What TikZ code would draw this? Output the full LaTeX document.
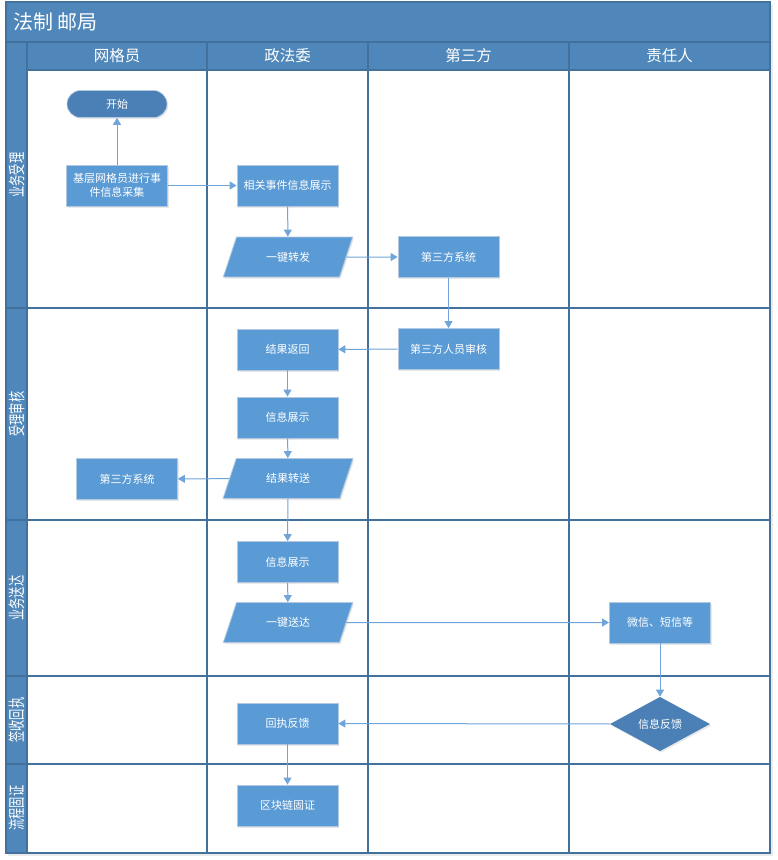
\documentclass[tikz,border=0pt]{standalone}
\usepackage{fontspec}
\usepackage{graphicx}
\setmainfont{Noto Sans CJK SC}
\usetikzlibrary{arrows.meta,shapes.geometric,shadows}
\definecolor{barblue}{HTML}{4F87BA}
\definecolor{gridblue}{HTML}{41719C}
\definecolor{boxblue}{HTML}{5B9BD5}
\definecolor{boxline}{HTML}{B3C9E2}
\definecolor{darkshape}{HTML}{4A80B6}
\definecolor{arrowblue}{HTML}{6FA5DA}
\tikzset{
  shade/.style={drop shadow={opacity=0.18,shadow xshift=1.2pt,shadow yshift=-1.5pt}},
  proc/.style={draw=boxline,line width=0.8pt,fill=boxblue,text=white,minimum width=101pt,minimum height=41pt,inner sep=1pt,align=center,font=\fontsize{11}{13.5}\selectfont,shade},
  para/.style={shape=trapezium,trapezium left angle=61,trapezium right angle=119,trapezium stretches=true,draw=boxline,line width=0.8pt,fill=boxblue,text=white,minimum width=130pt,minimum height=40pt,inner sep=0pt,font=\fontsize{11}{13.5}\selectfont,shade},
  term/.style={draw=boxline,line width=0.6pt,fill=darkshape,text=white,minimum width=100pt,minimum height=27pt,rounded corners=13.5pt,inner sep=0pt,font=\fontsize{11}{13.5}\selectfont,shade},
  decide/.style={shape=diamond,draw=none,fill=darkshape,text=white,minimum width=100pt,minimum height=42pt,inner sep=0pt,font=\fontsize{11}{13.5}\selectfont,shade},
  flow/.style={draw=arrowblue,line width=1pt,-{Triangle[width=8pt,length=7pt]}},
  gridline/.style={draw=gridblue,line width=1.1pt},
  lanelabel/.style={rotate=90,text=white,font=\fontsize{17}{19}\selectfont},
  headlabel/.style={text=white,font=\fontsize{15.5}{17}\selectfont},
}
\newcommand{\squeeze}[1]{\scalebox{0.66}[1]{#1}}
\begin{document}
\begin{tikzpicture}[x=1pt,y=-1pt]
\useasboundingbox (0,0) rectangle (777,860);
% frame shadow
\fill[black,opacity=0.08] (8,5) rectangle (773,856);
\fill[white] (6,2) rectangle (770,853);
% bars
\fill[barblue] (6,2) rectangle (770,42);
\fill[barblue] (6,42) rectangle (770,70);
\fill[barblue] (6,42) rectangle (27,853);
% grid
\draw[gridline] (6,2) rectangle (770,853);
\draw[gridline] (6,42) -- (770,42);
\draw[gridline] (27,70) -- (770,70);
\draw[gridline] (27,42) -- (27,853);
\foreach \xx in {207,368,569} \draw[gridline] (\xx,42) -- (\xx,853);
\foreach \yy in {308,520,676,764} \draw[gridline] (6,\yy) -- (770,\yy);
% title and headers
\node[text=white,anchor=west,inner sep=0pt,font=\fontsize{20}{22}\selectfont] (title) at (13,22) {法制\hspace{4pt}邮局};
\node[headlabel] (h1) at (117,56) {网格员};
\node[headlabel] (h2) at (287.5,56) {政法委};
\node[headlabel] (h3) at (468.5,56) {第三方};
\node[headlabel] (h4) at (669.5,56) {责任人};
% lane labels
\node[lanelabel] (l1) at (16.5,175) {\squeeze{业务受理}};
\node[lanelabel] (l2) at (16.5,414) {\squeeze{受理审核}};
\node[lanelabel] (l3) at (16.5,598) {\squeeze{业务送达}};
\node[lanelabel] (l4) at (16.5,720) {\squeeze{签收回执}};
\node[lanelabel] (l5) at (16.5,808) {\squeeze{流程固证}};
% nodes
\node[term] (start) at (117,104) {开始};
\node[proc] (collect) at (117,185.5) {基层网格员进行事\\件信息采集};
\node[proc] (show1) at (287.5,185.5) {相关事件信息展示};
\node[para] (fwd) at (288,257) {一键转发};
\node[proc] (sys1) at (448.5,257) {第三方系统};
\node[proc] (audit) at (448.5,349) {第三方人员审核};
\node[proc] (ret) at (287.5,349.5) {结果返回};
\node[proc] (show2) at (287.5,417.5) {信息展示};
\node[para] (send) at (288,478.5) {结果转送};
\node[proc] (sys2) at (127,479) {第三方系统};
\node[proc] (show3) at (287.5,562) {信息展示};
\node[para] (deliver) at (288,622.5) {一键送达};
\node[proc] (wechat) at (660,622.5) {微信、短信等};
\node[decide] (fb) at (660,724) {信息反馈};
\node[proc] (receipt) at (287.5,723.5) {回执反馈};
\node[proc] (chain) at (287.5,805.5) {区块链固证};
% connectors
\draw[flow] (collect) -- (start);
\draw[flow] (collect) -- (show1);
\draw[flow] (show1) -- (fwd);
\draw[flow] (fwd) -- (sys1);
\draw[flow] (sys1) -- (audit);
\draw[flow] (audit) -- (ret);
\draw[flow] (ret) -- (show2);
\draw[flow] (show2) -- (send);
\draw[flow] (send) -- (sys2);
\draw[flow] (send) -- (show3);
\draw[flow] (show3) -- (deliver);
\draw[flow] (deliver) -- (wechat);
\draw[flow] (wechat) -- (fb);
\draw[flow] (fb) -- (receipt);
\draw[flow] (receipt) -- (chain);
\end{tikzpicture}
\end{document}
